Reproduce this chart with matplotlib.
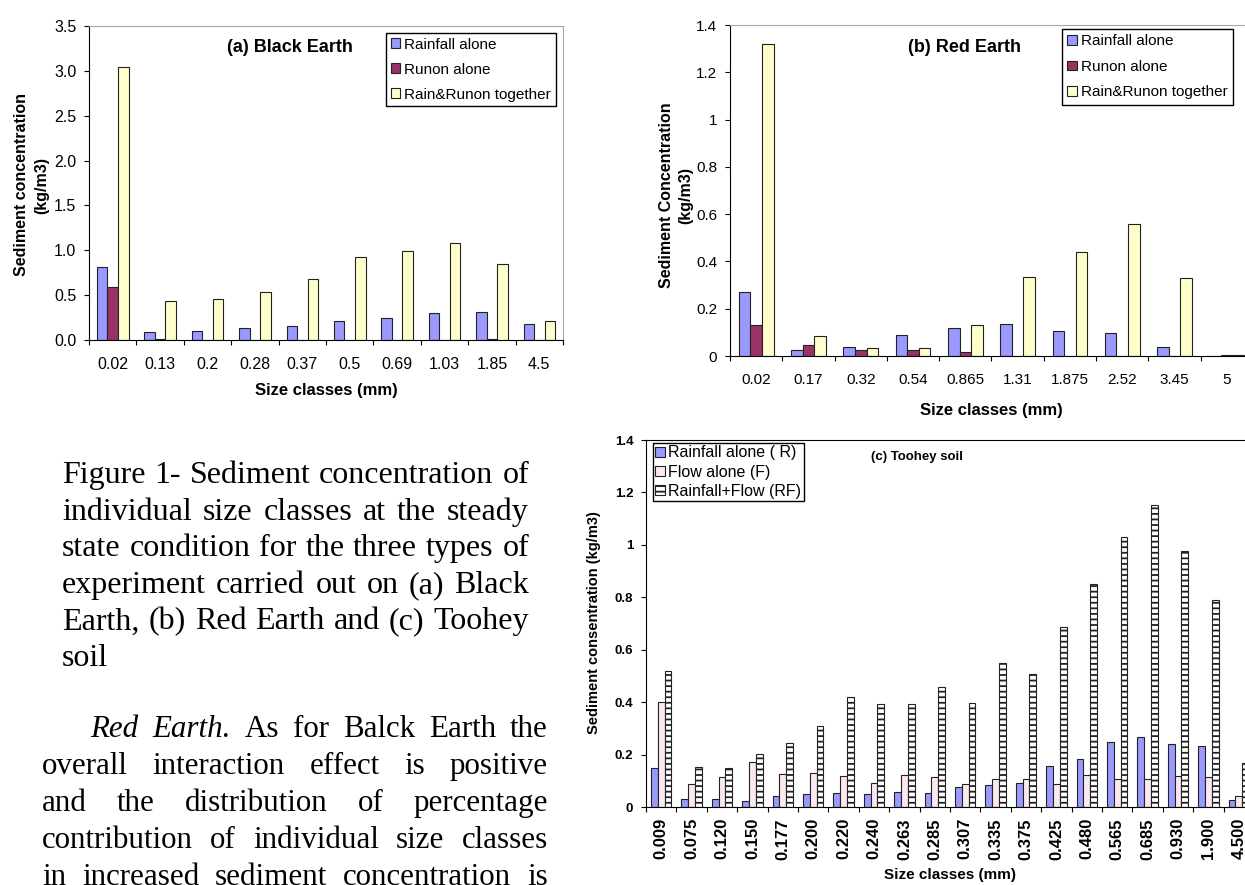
import matplotlib
matplotlib.use('Agg')
import matplotlib.pyplot as plt
import numpy as np
from matplotlib.ticker import FuncFormatter

plt.rcParams['font.family'] = ['Liberation Sans', 'DejaVu Sans']
plt.rcParams['hatch.linewidth'] = 1.3

# --- data ---
black_sizes = ['0.02', '0.13', '0.2', '0.28', '0.37', '0.5', '0.69', '1.03', '1.85', '4.5']
black_rain = [0.81, 0.09, 0.10, 0.13, 0.16, 0.21, 0.25, 0.30, 0.31, 0.18]
black_runon = [0.59, 0.01, 0.0, 0.0, 0.0, 0.0, 0.0, 0.0, 0.01, 0.0]
black_both = [3.04, 0.43, 0.46, 0.53, 0.68, 0.93, 0.99, 1.08, 0.85, 0.21]

red_sizes = ['0.02', '0.17', '0.32', '0.54', '0.865', '1.31', '1.875', '2.52', '3.45', '5']
red_rain = [0.27, 0.025, 0.04, 0.09, 0.12, 0.137, 0.107, 0.097, 0.038, 0.0]
red_runon = [0.13, 0.045, 0.027, 0.027, 0.017, 0.0, 0.0, 0.0, 0.0, 0.004]
red_both = [1.32, 0.085, 0.033, 0.033, 0.13, 0.335, 0.44, 0.56, 0.328, 0.004]

toohey_sizes = ['0.009', '0.075', '0.120', '0.150', '0.177', '0.200', '0.220', '0.240',
                '0.263', '0.285', '0.307', '0.335', '0.375', '0.425', '0.480', '0.565',
                '0.685', '0.930', '1.900', '4.500']
toohey_r = [0.15, 0.03, 0.03, 0.023, 0.041, 0.05, 0.053, 0.048, 0.058, 0.053,
            0.078, 0.084, 0.09, 0.155, 0.182, 0.247, 0.267, 0.242, 0.233, 0.028]
toohey_f = [0.40, 0.087, 0.115, 0.17, 0.126, 0.13, 0.12, 0.092, 0.123, 0.115,
            0.089, 0.106, 0.106, 0.089, 0.122, 0.106, 0.107, 0.117, 0.115, 0.041]
toohey_rf = [0.517, 0.154, 0.149, 0.202, 0.243, 0.31, 0.42, 0.392, 0.392, 0.456,
             0.398, 0.549, 0.507, 0.687, 0.849, 1.031, 1.152, 0.976, 0.79, 0.167]

ab_names = ['Rainfall alone', 'Runon alone', 'Rain&Runon together']
c_names = ['Rainfall alone ( R)', 'Flow alone (F)', 'Rainfall+Flow (RF)']

caption_lines = ["Figure  1- Sediment concentration of",
                 "individual size classes at the steady",
                 "state condition for the three types of",
                 "experiment carried out on (a) Black",
                 "Earth, (b) Red Earth and (c) Toohey",
                 "soil"]
para_lines = ["Red Earth. As for Balck Earth the",
              "overall interaction effect is positive",
              "and the distribution of percentage",
              "contribution of individual size classes",
              "in increased sediment concentration is"]

W, H = 1245, 885
fig = plt.figure(figsize=(W / 100, H / 100), dpi=100)


def fx(px):
    return px / W


def fy(py):
    return 1 - py / H


def box(x0, y0, x1, y1):
    return [fx(x0), fy(y1), (x1 - x0) / W, (y1 - y0) / H]


def bar_groups(ax, labels, series, names, colors, hatches):
    n = len(labels)
    x = np.arange(n)
    w = 1 / 4.5
    for k in range(3):
        ax.bar(x + (k - 1) * w, series[k], w, color=colors[k], edgecolor='#222222',
               linewidth=0.8, hatch=hatches[k], label=names[k])
    ax.set_xlim(-0.5, n - 0.5)
    ax.set_xticks(x)
    ax.set_xticklabels(labels)
    ax.set_xticks(np.arange(n + 1) - 0.5, minor=True)
    ax.tick_params(axis='x', which='major', length=0)
    ax.tick_params(axis='x', which='minor', length=3.6, width=0.8)
    ax.tick_params(axis='y', length=3.6, width=0.8, pad=5.5)


ab_colors = ['#9999ff', '#993366', '#ffffcc']
c_colors = ['#9999ff', '#fce8f1', 'white']

# (a) Black Earth
ax1 = fig.add_axes(box(89, 26, 563, 340))
bar_groups(ax1, black_sizes, [black_rain, black_runon, black_both], ab_names, ab_colors, [None, None, None])
ax1.set_ylim(0, 3.5)
ax1.set_yticks(np.arange(0, 3.51, 0.5))
ax1.yaxis.set_major_formatter(FuncFormatter(lambda v, p: '%.1f' % v))
ax1.tick_params(labelsize=11.5)
ax1.tick_params(axis='x', which='major', pad=12.5)
for s in ['top', 'right']:
    ax1.spines[s].set_color('#a6a6a6')
ax1.legend(loc='upper left', bbox_to_anchor=(fx(386), fy(33)), bbox_transform=fig.transFigure,
           fontsize=11, fancybox=False, edgecolor='black', framealpha=1, borderaxespad=0,
           handlelength=0.6, handleheight=0.6, handletextpad=0.3, labelspacing=0.72, borderpad=0.3)
fig.text(fx(290), fy(48), '(a) Black Earth', ha='center', va='center', fontsize=13, fontweight='bold')
fig.text(fx(32), fy(185), 'Sediment concentration\n(kg/m3)', rotation=90, ha='center', va='center',
         fontsize=11.5, fontweight='bold', linespacing=1.45, multialignment='center')
fig.text(fx(326), fy(391), 'Size classes (mm)', ha='center', va='center', fontsize=12, fontweight='bold')

# (b) Red Earth
ax2 = fig.add_axes(box(730, 25, 1253, 356))
bar_groups(ax2, red_sizes, [red_rain, red_runon, red_both], ab_names, ab_colors, [None, None, None])
ax2.set_ylim(0, 1.4)
ax2.set_yticks(np.arange(0, 1.41, 0.2))
ax2.yaxis.set_major_formatter(FuncFormatter(lambda v, p: '%g' % round(v, 1)))
ax2.tick_params(labelsize=11)
ax2.tick_params(axis='x', which='major', pad=12.5)
for s in ['top', 'right']:
    ax2.spines[s].set_color('#a6a6a6')
ax2.legend(loc='upper left', bbox_to_anchor=(fx(1062), fy(29)), bbox_transform=fig.transFigure,
           fontsize=11, fancybox=False, edgecolor='black', framealpha=1, borderaxespad=0,
           handlelength=0.6, handleheight=0.6, handletextpad=0.3, labelspacing=0.75, borderpad=0.35)
fig.text(fx(964), fy(48), '(b) Red Earth', ha='center', va='center', fontsize=13, fontweight='bold')
fig.text(fx(676), fy(195), 'Sediment Concentration\n(kg/m3)', rotation=90, ha='center', va='center',
         fontsize=11.5, fontweight='bold', linespacing=1.35, multialignment='center')
fig.text(fx(991), fy(411), 'Size classes (mm)', ha='center', va='center', fontsize=12, fontweight='bold')

# (c) Toohey soil
ax3 = fig.add_axes(box(646, 440, 1254, 807))
bar_groups(ax3, toohey_sizes, [toohey_r, toohey_f, toohey_rf], c_names, c_colors, [None, None, '---'])
ax3.set_ylim(0, 1.4)
ax3.set_yticks(np.arange(0, 1.41, 0.2))
ax3.yaxis.set_major_formatter(FuncFormatter(lambda v, p: '%g' % round(v, 1)))
ax3.tick_params(axis='y', labelsize=9.5)
ax3.tick_params(axis='x', which='major', labelsize=12, pad=8, labelrotation=90)
for lab in ax3.get_xticklabels() + ax3.get_yticklabels():
    lab.set_fontweight('bold')
ax3.spines['right'].set_visible(False)
ax3.legend(loc='upper left', bbox_to_anchor=(fx(653), fy(443)), bbox_transform=fig.transFigure,
           fontsize=11.5, fancybox=False, edgecolor='black', framealpha=1, borderaxespad=0,
           handlelength=0.6, handleheight=0.6, handletextpad=0.2, labelspacing=0.26, borderpad=0.15)
fig.text(fx(871), fy(457), '(c) Toohey soil', ha='left', va='center', fontsize=9.5, fontweight='bold')
fig.text(fx(594), fy(623), 'Sediment consentration (kg/m3)', rotation=90, ha='center', va='center',
         fontsize=10.5, fontweight='bold')
fig.text(fx(950), fy(875), 'Size classes (mm)', ha='center', va='center', fontsize=11, fontweight='bold')

# --- caption and body text, justified word by word ---
renderer = fig.canvas.get_renderer()


def justify(line, x0, x1, y, size, last=False, italic_words=0):
    words = line.split()
    texts = []
    for i, wd in enumerate(words):
        style = 'italic' if i < italic_words else 'normal'
        texts.append(fig.text(0, fy(y), wd, family='Liberation Serif', fontsize=size,
                              style=style, va='baseline', ha='left'))
    widths = [t.get_window_extent(renderer).width for t in texts]
    if last or len(words) == 1:
        gap = renderer.points_to_pixels(size) * 0.25
    else:
        gap = (x1 - x0 - sum(widths)) / (len(words) - 1)
    x = x0
    for t, wd in zip(texts, widths):
        t.set_x(fx(x))
        x += wd + gap


for i, line in enumerate(caption_lines):
    justify(line, 62, 529, 483 + 36.6 * i, 23, last=(i == len(caption_lines) - 1))

for i, line in enumerate(para_lines):
    x0 = 90 if i == 0 else 42
    justify(line, x0, 548, 737 + 37 * i, 22.3, italic_words=2 if i == 0 else 0)

fig.savefig('out.png', dpi=100)
